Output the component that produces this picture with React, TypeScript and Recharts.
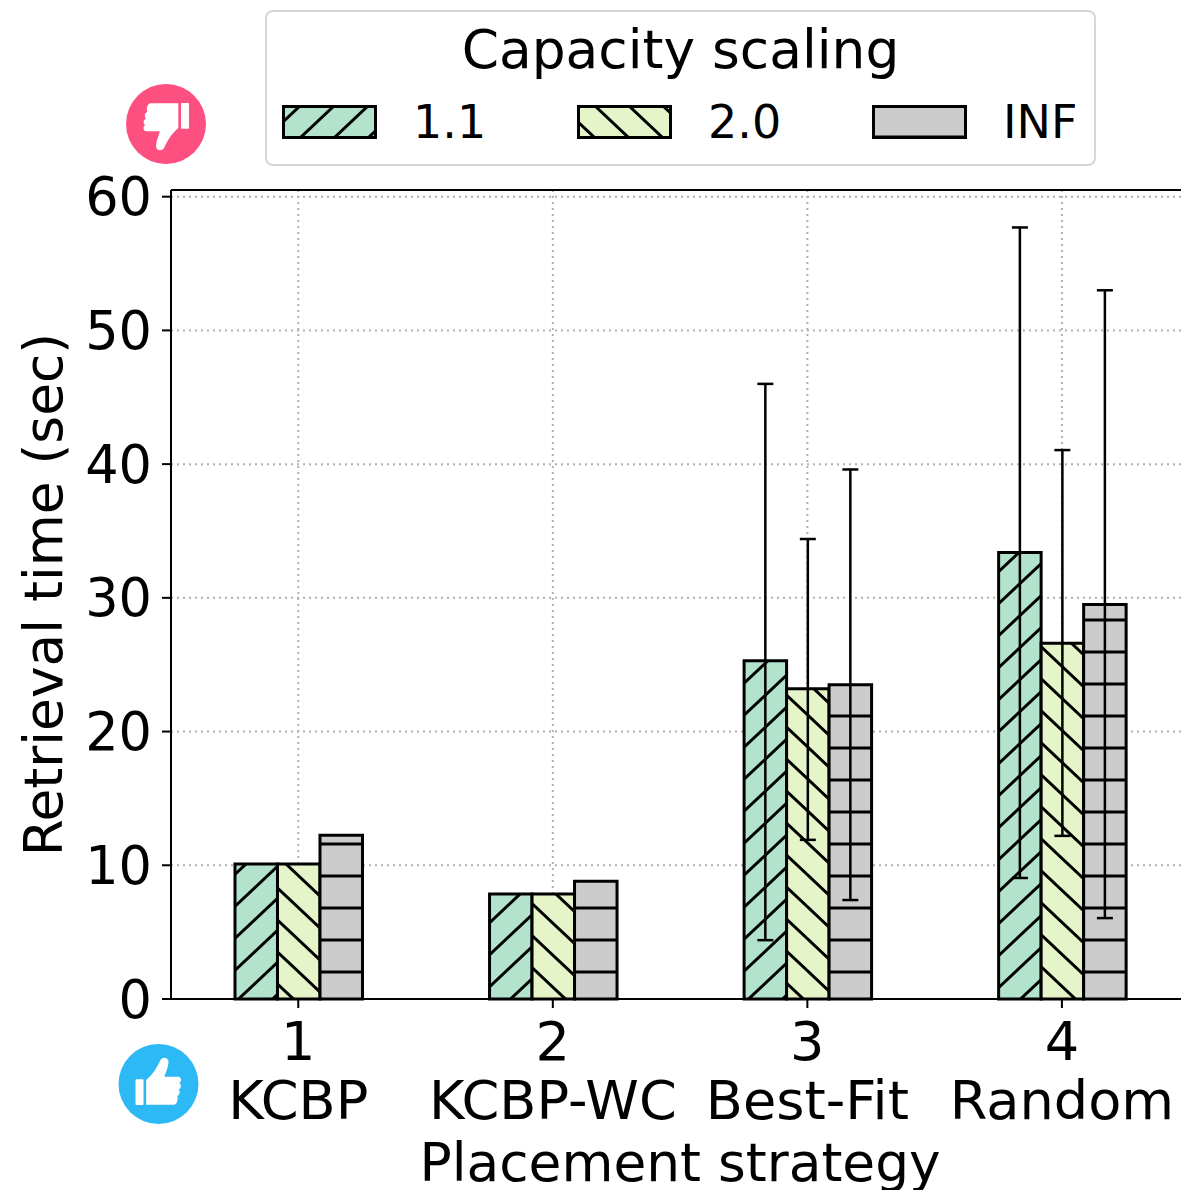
import { Bar, BarChart, CartesianGrid, ErrorBar, Legend, ReferenceLine, XAxis, YAxis } from "recharts";

const FONT = "DejaVu Sans";

const ranks = ["1", "2", "3", "4"];
const strategies = ["KCBP", "KCBP-WC", "Best-Fit", "Random"];
const yTicks = [0, 10, 20, 30, 40, 50, 60];

const series = ["1.1", "2.0", "INF"];
const colors = ["#b3e2cd", "#e6f5c9", "#cccccc"];
const hatchIds = ["hatchSlash", "hatchBack", "hatchFlat"];

const time11 = [10.1, 7.85, 25.3, 33.4];
const time20 = [10.1, 7.85, 23.2, 26.6];
const timeInf = [12.25, 8.8, 23.5, 29.5];

// distance below / above the bar top, none for the first two strategies
const err11 = [null, null, [20.9, 20.7], [24.35, 24.3]];
const err20 = [null, null, [11.3, 11.2], [14.4, 14.45]];
const errInf = [null, null, [16.1, 16.1], [23.45, 23.5]];

const data = ranks.map((rank, i) => ({
  rank,
  strategy: strategies[i],
  a: time11[i],
  b: time20[i],
  c: timeInf[i],
  ea: err11[i],
  eb: err20[i],
  ec: errInf[i],
}));

const HAND =
  "M-37,-12 C-22,-24 -8,-42 4,-68 C8,-80 26,-84 30,-68 C30,-50 22,-36 18,-22 L58,-22 C70,-22 70,-6 62,-4 C70,2 68,14 60,16 C66,22 64,34 56,36 C60,44 56,62 46,62 L-37,62 Z";

function HatchDefs({ prefix = "", slash = [8, 0], back = [14, 0], flat = 12 }: any) {
  const line = { stroke: "#000", strokeWidth: 3, fill: "none" };
  return (
    <defs>
      <pattern id={prefix + "hatchSlash"} width={34} height={32} patternUnits="userSpaceOnUse" patternTransform={`translate(${slash[0]} ${slash[1]})`}>
        <rect width={34} height={32} fill={colors[0]} />
        <path d="M-3.4,3.2 L3.4,-3.2 M-3.4,35.2 L37.4,-3.2 M30.6,35.2 L37.4,28.8" {...line} />
      </pattern>
      <pattern id={prefix + "hatchBack"} width={34} height={32} patternUnits="userSpaceOnUse" patternTransform={`translate(${back[0]} ${back[1]})`}>
        <rect width={34} height={32} fill={colors[1]} />
        <path d="M-3.4,-3.2 L37.4,35.2 M30.6,-3.2 L37.4,3.2 M-3.4,28.8 L3.4,35.2" {...line} />
      </pattern>
      <pattern id={prefix + "hatchFlat"} width={34} height={32} patternUnits="userSpaceOnUse" patternTransform={`translate(0 ${flat})`}>
        <rect width={34} height={32} fill={colors[2]} />
        <path d="M0,0 L34,0 M0,32 L34,32" {...line} />
      </pattern>
    </defs>
  );
}

function XTick({ x, y, payload, index }: any) {
  return (
    <text x={x} textAnchor="middle" fontFamily={FONT} fontSize={54.2} fill="#000">
      <tspan x={x} y={y + 50}>{payload.value}</tspan>
      <tspan x={x} y={y + 109}>{strategies[index]}</tspan>
    </text>
  );
}

function LegendBox({ payload }: any) {
  const slots = [15, 310, 605];
  return (
    <div style={{ position: "relative", width: 831, height: 156, boxSizing: "border-box", border: "2px solid #d6d6d6", borderRadius: 8, background: "#fff", fontFamily: FONT, color: "#000" }}>
      <div style={{ position: "absolute", left: 0, right: 0, top: 8, textAlign: "center", fontSize: 53.4, lineHeight: "60px" }}>Capacity scaling</div>
      {(payload ?? []).map((item: any, i: number) => (
        <div key={item.value}>
          <svg width={95} height={34} style={{ position: "absolute", left: slots[i], top: 93 }}>
            <HatchDefs prefix="leg" slash={[19, 0]} back={[17, 0]} flat={0} />
            <rect x={1.5} y={1.5} width={92} height={31} fill={`url(#leg${hatchIds[i]})`} stroke="#000" strokeWidth={3} />
          </svg>
          <div style={{ position: "absolute", left: slots[i] + 131, top: 83, fontSize: 46, lineHeight: "54px" }}>{item.value}</div>
        </div>
      ))}
    </div>
  );
}

function Thumb({ cx, cy, fill, down }: { cx: number; cy: number; fill: string; down?: boolean }) {
  return (
    <g transform={`translate(${cx} ${cy}) scale(${down ? -1 / 3 : 1 / 3})`}>
      <circle r={120} fill={fill} />
      <rect x={-69} y={-14} width={24} height={77} rx={3} fill="#fff" />
      <path d={HAND} fill="#fff" />
    </g>
  );
}

export default function App() {
  return (
    <div style={{ position: "absolute", left: 0, top: 0, width: 1181, height: 1190, overflow: "hidden", background: "#fff" }}>
      <BarChart
        width={1189.2}
        height={1190}
        data={data}
        margin={{ top: 190, right: 0, bottom: 0, left: 0 }}
        barSize={42.5}
        barGap={0}
      >
        <HatchDefs />
        <XAxis
          dataKey="rank"
          height={191}
          tickSize={9}
          tick={XTick}
          interval={0}
          axisLine={{ stroke: "#000", strokeWidth: 2 }}
          tickLine={{ stroke: "#000", strokeWidth: 2 }}
          label={{ value: "Placement strategy", position: "insideBottom", offset: 9, dx: 0, fontFamily: FONT, fontSize: 53.4, fill: "#000" }}
        />
        <YAxis
          width={171}
          domain={[0, 60.5]}
          ticks={yTicks}
          tickSize={9}
          tickMargin={10}
          interval={0}
          tick={{ fontFamily: FONT, fontSize: 52.5, fill: "#000" }}
          axisLine={{ stroke: "#000", strokeWidth: 2 }}
          tickLine={{ stroke: "#000", strokeWidth: 2 }}
          label={{ value: "Retrieval time (sec)", angle: -90, position: "insideLeft", offset: 0, dx: 43, textAnchor: "middle", fontFamily: FONT, fontSize: 53.4, fill: "#000" }}
        />
        <Legend
          layout="horizontal"
          verticalAlign="middle"
          content={LegendBox}
          wrapperStyle={{ left: 265, top: 10, width: 831, height: 156 }}
        />
        <Bar dataKey="a" name={series[0]} fill={`url(#${hatchIds[0]})`} stroke="#000" strokeWidth={3} isAnimationActive={false}>
          <ErrorBar dataKey="ea" width={8} stroke="#000" strokeWidth={2.5} />
        </Bar>
        <Bar dataKey="b" name={series[1]} fill={`url(#${hatchIds[1]})`} stroke="#000" strokeWidth={3} isAnimationActive={false}>
          <ErrorBar dataKey="eb" width={8} stroke="#000" strokeWidth={2.5} />
        </Bar>
        <Bar dataKey="c" name={series[2]} fill={`url(#${hatchIds[2]})`} stroke="#000" strokeWidth={3} isAnimationActive={false}>
          <ErrorBar dataKey="ec" width={8} stroke="#000" strokeWidth={2.5} />
        </Bar>
        <CartesianGrid stroke="#b0b0b0" strokeWidth={2} strokeDasharray="2 4" />
        <ReferenceLine y={60.5} stroke="#000" strokeWidth={2} />
      </BarChart>
      <svg width={1181} height={1190} style={{ position: "absolute", left: 0, top: 0, pointerEvents: "none" }}>
        <Thumb cx={166} cy={124} fill="#fd5080" down />
        <Thumb cx={158.5} cy={1084} fill="#2cb9f5" />
      </svg>
    </div>
  );
}
